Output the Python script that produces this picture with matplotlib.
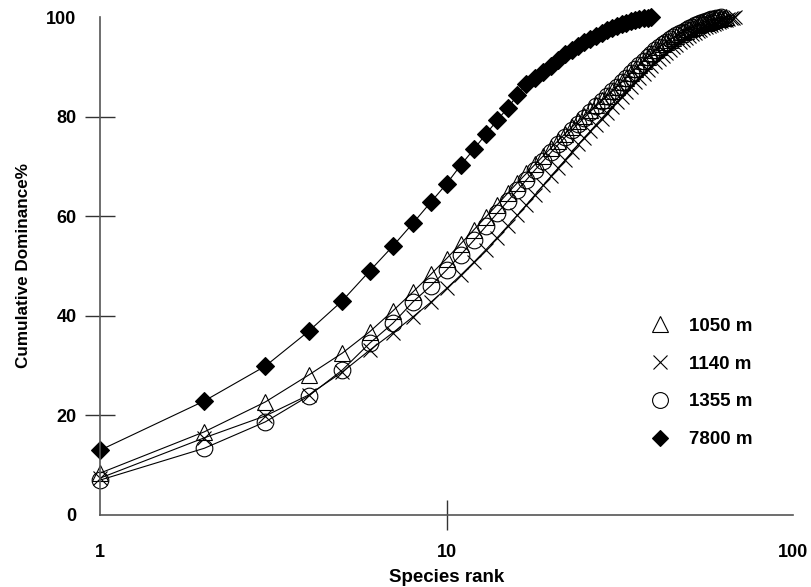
import matplotlib
matplotlib.use("Agg")
from matplotlib import pyplot as plt
from matplotlib.lines import Line2D
import numpy as np

plt.rcParams['font.family'] = ['Liberation Sans', 'DejaVu Sans']
plt.rcParams['font.weight'] = 'bold'

# cumulative dominance (%) by species rank
y1050 = [8.4, 16.7, 22.7, 28.1, 32.5, 36.8, 41.0, 44.8, 48.3, 51.5,
         54.5, 57.3, 59.9, 62.3, 64.6, 66.7, 68.6, 70.4, 72.1, 73.7,
         75.2, 76.6, 77.9, 79.1, 80.2, 81.3, 82.3, 83.3, 84.2, 85.1,
         86.0, 86.9, 87.8, 88.7, 89.6, 90.4, 91.2, 92.0, 92.7, 93.4,
         94.0, 94.5, 95.0, 95.4, 95.8, 96.2, 96.6, 96.9, 97.2, 97.5,
         97.8, 98.0, 98.3, 98.5, 98.7, 98.9, 99.1, 99.3, 99.45, 99.6,
         99.7, 99.8, 99.9, 100.0]
y1140 = [7.4, 15.5, 19.9, 24.1, 28.7, 33.1, 36.6, 39.8, 42.7, 45.5,
         48.2, 50.8, 53.3, 55.7, 58.0, 60.2, 62.3, 64.3, 66.2, 68.0,
         69.7, 71.3, 72.9, 74.4, 75.8, 77.1, 78.4, 79.6, 80.8, 81.9,
         83.0, 84.0, 85.0, 86.0, 86.9, 87.8, 88.6, 89.4, 90.2, 90.9,
         91.6, 92.2, 92.8, 93.4, 93.9, 94.4, 94.9, 95.3, 95.7, 96.1,
         96.5, 96.8, 97.1, 97.4, 97.7, 98.0, 98.2, 98.4, 98.6, 98.8,
         99.0, 99.2, 99.35, 99.5, 99.65, 99.8, 99.9, 100.0]
y1355 = [7.0, 13.4, 18.7, 23.9, 29.1, 34.5, 38.5, 42.8, 46.0, 49.2,
         52.3, 55.2, 58.0, 60.6, 63.0, 65.2, 67.3, 69.3, 71.1, 72.8,
         74.4, 75.9, 77.3, 78.6, 79.8, 81.0, 82.1, 83.1, 84.1, 85.1,
         86.0, 86.9, 87.8, 88.7, 89.5, 90.3, 91.1, 91.9, 92.6, 93.3,
         93.9, 94.5, 95.0, 95.5, 95.9, 96.3, 96.7, 97.0, 97.4, 97.7,
         98.0, 98.3, 98.5, 98.8, 99.0, 99.2, 99.4, 99.55, 99.7, 99.8,
         99.9, 100.0]
y7800 = [13.0, 22.9, 29.9, 36.9, 43.0, 49.0, 54.0, 58.6, 62.8, 66.5,
         70.3, 73.5, 76.5, 79.3, 81.7, 84.3, 86.5, 87.8, 89.0, 90.2,
         91.3, 92.5, 93.3, 94.1, 94.9, 95.6, 96.2, 96.8, 97.3, 97.8,
         98.2, 98.6, 98.9, 99.2, 99.45, 99.65, 99.8, 99.9, 100.0]

labels = ['1050 m', '1140 m', '1355 m', '7800 m']
series = [y1050, y1140, y1355, y7800]
markers = ['^', 'x', 'o', 'D']
sizes = [12, 10, 12, 9]

fig = plt.figure(figsize=(8.11, 5.87), dpi=100)
ax = fig.add_axes([0.1233, 0.1227, 0.8547, 0.8483])

for y, m, s in zip(series, markers, sizes):
    rank = np.arange(1, len(y) + 1)
    filled = (m == 'D')
    ax.plot(rank, y, color='black', lw=0.8, marker=m, markersize=s,
            markerfacecolor='black' if filled else 'none',
            markeredgecolor='black', markeredgewidth=0.8, clip_on=False)

ax.set_xscale('log')
ax.set_xlim(1, 100)
ax.set_ylim(0, 100)
ax.set_xticks([1, 10, 100])
ax.set_xticklabels(['1', '10', '100'])
ax.set_yticks([0, 20, 40, 60, 80, 100])
ax.xaxis.set_minor_locator(matplotlib.ticker.NullLocator())

for side in ['top', 'right']:
    ax.spines[side].set_visible(False)
for side in ['left', 'bottom']:
    ax.spines[side].set_color('#555555')
    ax.spines[side].set_linewidth(1.2)

ax.tick_params(axis='both', direction='inout', length=22, width=1,
               color='#333333', labelsize=13)
ax.tick_params(axis='y', pad=6)
ax.tick_params(axis='x', pad=10)

# no tick marks at the ends of the axes, only the labels
for t in ax.xaxis.get_major_ticks()[::2]:
    t.tick1line.set_visible(False)
for i in (0, -1):
    ax.yaxis.get_major_ticks()[i].tick1line.set_visible(False)

ax.set_xlabel('Species rank', fontsize=13.5, fontweight='bold', labelpad=6)
ax.set_ylabel('Cumulative Dominance%', fontsize=12.3, fontweight='bold',
              labelpad=11)

handles = []
for m, s, lab in zip(markers, sizes, labels):
    filled = (m == 'D')
    handles.append(Line2D([], [], linestyle='none', marker=m,
                          markersize=s * 0.95,
                          markerfacecolor='black' if filled else 'none',
                          markeredgecolor='black', markeredgewidth=0.8,
                          label=lab))
ax.legend(handles=handles, loc='center left',
          bbox_to_anchor=(0.768, 0.265), frameon=False, fontsize=13.5,
          labelspacing=1.1, handlelength=1.2, handletextpad=0.9)

fig.savefig('out.png', dpi=100)
